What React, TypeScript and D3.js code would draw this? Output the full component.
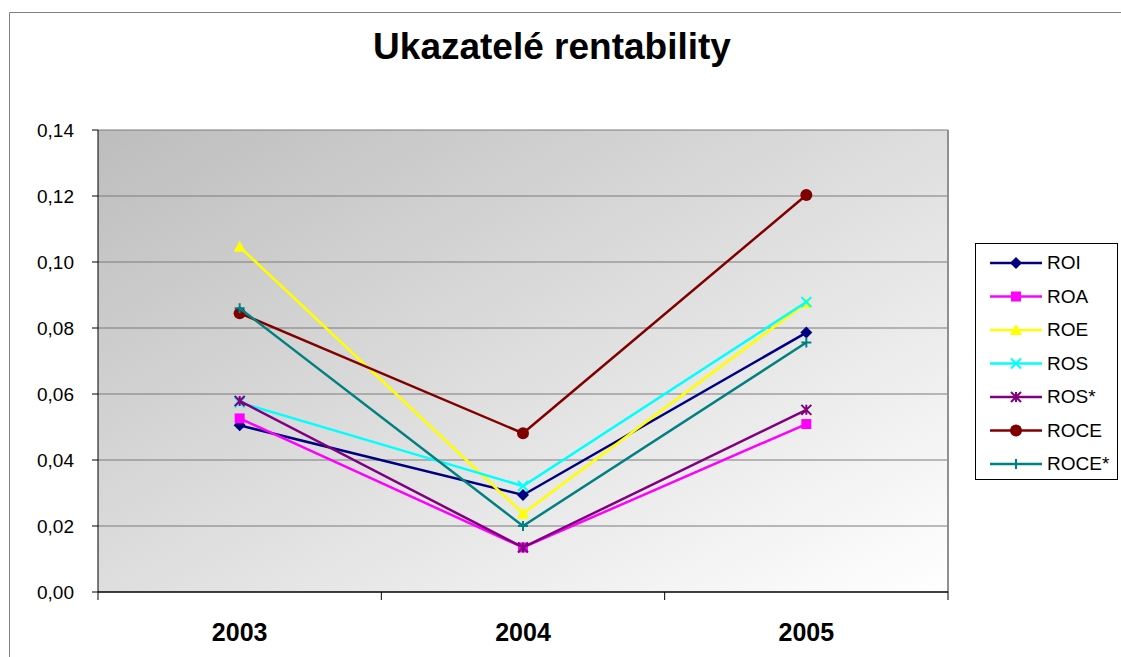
import React from "react";
import * as d3 from "d3";

const categories = ["2003", "2004", "2005"];
const seriesNames = ["ROI", "ROA", "ROE", "ROS", "ROS*", "ROCE", "ROCE*"];
const roi = [0.0505, 0.0294, 0.0786];
const roa = [0.0526, 0.0135, 0.0509];
const roe = [0.1046, 0.0238, 0.0876];
const ros = [0.0574, 0.0321, 0.0879];
const rosStar = [0.0579, 0.0135, 0.0552];
const roce = [0.0845, 0.0481, 0.1203];
const roceStar = [0.086, 0.0200, 0.0756];
const yTicks = [0, 0.02, 0.04, 0.06, 0.08, 0.1, 0.12, 0.14];
const colors = ["#000080", "#FF00FF", "#FFFF00", "#00FFFF", "#800080", "#800000", "#008080"];
const markers = ["diamond", "square", "triangle", "x", "star", "circle", "plus"];
const values = [roi, roa, roe, ros, rosStar, roce, roceStar];

const W = 1121, H = 657;
const left = 98, right = 948, top = 130, bottom = 592;

function Marker({ type, x, y, color }: { type: string; x: number; y: number; color: string }) {
  const s = 5;
  switch (type) {
    case "diamond":
      return <path d={`M${x},${y - s - 1}L${x + s + 1},${y}L${x},${y + s + 1}L${x - s - 1},${y}Z`} fill={color} />;
    case "square":
      return <rect x={x - s} y={y - s} width={2 * s} height={2 * s} fill={color} />;
    case "triangle":
      return <path d={`M${x},${y - s - 1}L${x + s + 1},${y + s}L${x - s - 1},${y + s}Z`} fill={color} />;
    case "x":
      return <path d={`M${x - s},${y - s}L${x + s},${y + s}M${x - s},${y + s}L${x + s},${y - s}`} stroke={color} strokeWidth={2} />;
    case "star":
      return <path d={`M${x - s},${y - s}L${x + s},${y + s}M${x - s},${y + s}L${x + s},${y - s}M${x},${y - s}L${x},${y + s}`} stroke={color} strokeWidth={2} />;
    case "circle":
      return <circle cx={x} cy={y} r={s + 1} fill={color} />;
    case "plus":
      return <path d={`M${x - s},${y}L${x + s},${y}M${x},${y - s}L${x},${y + s}`} stroke={color} strokeWidth={2} />;
  }
  return null;
}

export default function App() {
  const x = d3.scaleBand<string>().domain(categories).range([left, right]);
  const y = d3.scaleLinear().domain([0, 0.14]).range([bottom, top]);
  const cx = (c: string) => (x(c) as number) + x.bandwidth() / 2;
  const line = d3.line<number>().x((_, i) => cx(categories[i])).y((d) => y(d));
  const fmt = (v: number) => v.toFixed(2).replace(".", ",");
  const boundaries = [...categories.map((c) => x(c) as number), right];
  const font = "Liberation Sans, Arial, sans-serif";

  return (
    <svg width={W} height={H} style={{ position: "absolute", left: 0, top: 0 }} fontFamily={font}>
      <defs>
        <linearGradient id="bg" x1="0" y1="0" x2="1" y2="1">
          <stop offset="0" stopColor="#bdbdbd" />
          <stop offset="1" stopColor="#ffffff" />
        </linearGradient>
      </defs>
      <rect width={W} height={H} fill="#fff" />
      <path d={`M9.5,${H}L9.5,12.5L${W},12.5`} fill="none" stroke="#808080" />
      <text x={552} y={59} textAnchor="middle" fontSize={37} fontWeight="bold">Ukazatelé rentability</text>
      <rect x={left} y={top} width={right - left} height={bottom - top} fill="url(#bg)" />
      {yTicks.map((t) => (
        <g key={t}>
          {t > 0 && <line x1={left} x2={right} y1={y(t)} y2={y(t)} stroke="#7a7a7a" strokeWidth={1} />}
          <line x1={left - 6} x2={left} y1={y(t)} y2={y(t)} stroke="#000" />
          <text x={74} y={y(t) + 7} textAnchor="end" fontSize={19}>{fmt(t)}</text>
        </g>
      ))}
      <line x1={right} x2={right} y1={top} y2={bottom} stroke="#909090" strokeWidth={2} />
      <line x1={left} x2={left} y1={top} y2={bottom} stroke="#000" />
      <line x1={left} x2={right} y1={bottom} y2={bottom} stroke="#000" strokeWidth={1.5} />
      {boundaries.map((b, i) => (
        <line key={i} x1={b} x2={b} y1={bottom} y2={bottom + 8} stroke="#000" />
      ))}
      {categories.map((c) => (
        <text key={c} x={cx(c)} y={641} textAnchor="middle" fontSize={25} fontWeight="bold">{c}</text>
      ))}
      {values.map((vals, si) => (
        <g key={si}>
          <path d={line(vals) || ""} fill="none" stroke={colors[si]} strokeWidth={2.5} />
          {vals.map((v, i) => (
            <Marker key={i} type={markers[si]} x={cx(categories[i])} y={y(v)} color={colors[si]} />
          ))}
        </g>
      ))}
      <rect x={975.5} y={243.5} width={142} height={236} fill="#fff" stroke="#000" />
      {seriesNames.map((n, i) => {
        const ly = 263 + i * 33.5;
        return (
          <g key={n}>
            <line x1={990} x2={1042} y1={ly} y2={ly} stroke={colors[i]} strokeWidth={2.5} />
            <Marker type={markers[i]} x={1016} y={ly} color={colors[i]} />
            <text x={1047} y={ly + 6} fontSize={19}>{n}</text>
          </g>
        );
      })}
    </svg>
  );
}
